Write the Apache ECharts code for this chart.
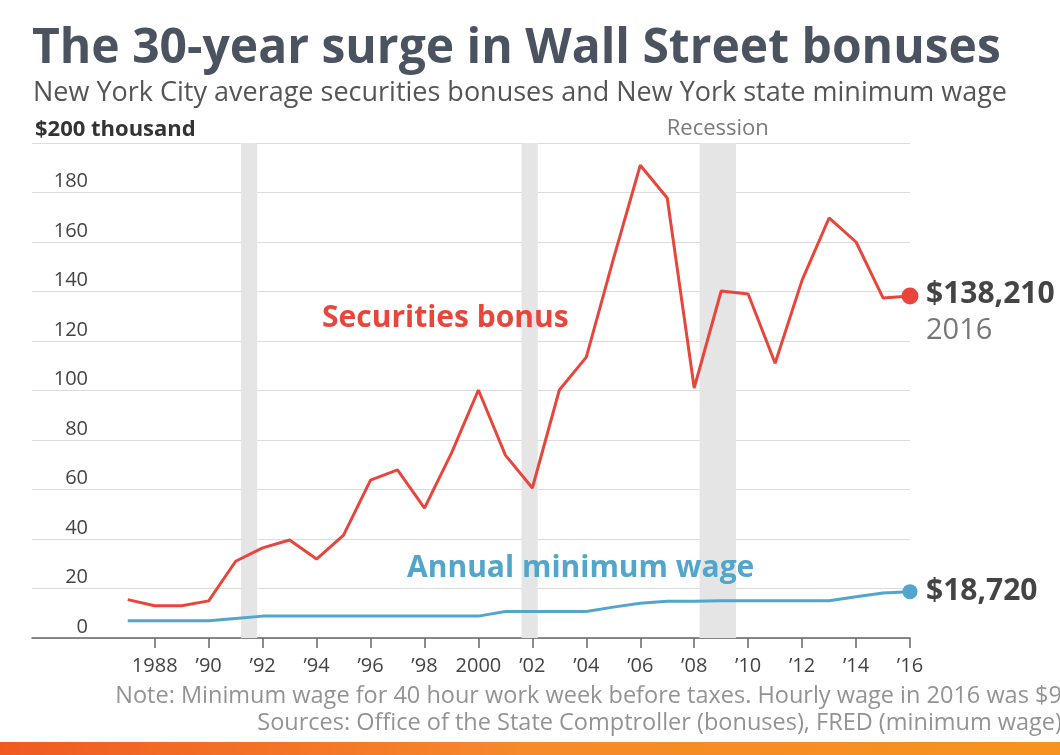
<!DOCTYPE html>
<html>
<head>
<meta charset="utf-8">
<script src="https://cdn.jsdelivr.net/npm/echarts@6/dist/echarts.min.js"></script>
<style>
  html, body { margin: 0; padding: 0; background: #fff; }
  #chartDiv { width: 1060px; height: 755px; }
</style>
</head>
<body>
<div id="chartDiv"></div>
<script>
// years and values in thousands of dollars
var years = [1987, 1988, 1989, 1990, 1991, 1992, 1993, 1994, 1995, 1996,
  1997, 1998, 1999, 2000, 2001, 2002, 2003, 2004, 2005, 2006,
  2007, 2008, 2009, 2010, 2011, 2012, 2013, 2014, 2015, 2016];
var bonus = [15.5, 13, 13, 15, 31, 36.4, 39.6, 31.9, 41.6, 63.8,
  67.9, 52.5, 74.7, 100.2, 73.9, 60.6, 100.2, 113.5, 153, 191,
  177.8, 101, 140.2, 139, 111, 144.6, 169.7, 160, 137.4, 138.21];
var minWage = [6.97, 6.97, 6.97, 6.97, 7.9, 8.84, 8.84, 8.84, 8.84, 8.84,
  8.84, 8.84, 8.84, 8.84, 10.71, 10.71, 10.71, 10.71, 12.48, 14.04,
  14.87, 14.87, 15.08, 15.08, 15.08, 15.08, 15.08, 16.64, 18.2, 18.72];
var recessions = [[1991.2, 1991.8], [2001.6, 2002.2], [2008.2, 2009.55]];
var tickYears = [1988, 1990, 1992, 1994, 1996, 1998, 2000, 2002, 2004, 2006,
  2008, 2010, 2012, 2014, 2016];

var RED = "#e8463d";
var BLUE = "#52a5cb";
var FONT = "Open Sans";

var myChart = echarts.init(document.getElementById("chartDiv"));

function pairs(ys) {
  var out = [];
  for (var i = 0; i < years.length; i++) out.push([years[i], ys[i]]);
  return out;
}

function dollars(v) {
  return "$" + Math.round(v * 1000).toLocaleString("en-US");
}

var last = years.length - 1;

var areas = [];
for (var i = 0; i < recessions.length; i++) {
  var start = { xAxis: recessions[i][0] };
  if (i === recessions.length - 1) {
    start.label = {
      show: true, position: "top", distance: 3, formatter: "Recession",
      color: "#7a7a7a", fontFamily: FONT, fontSize: 22
    };
  }
  areas.push([start, { xAxis: recessions[i][1] }]);
}

var option = {
  backgroundColor: "#ffffff",
  animation: false,
  grid: { left: 32, right: 150, top: 143, bottom: 117 },
  xAxis: {
    type: "value",
    min: 1983.45,
    max: 2016,
    axisLine: { show: true, lineStyle: { color: "#666", width: 1.5 } },
    axisTick: { show: true, length: 10, customValues: tickYears, lineStyle: { color: "#666", width: 1.5 } },
    axisLabel: {
      customValues: tickYears,
      margin: 18,
      color: "#444",
      fontFamily: FONT,
      fontSize: 20,
      formatter: function (v) {
        if (v === 1988 || v === 2000) return String(v);
        return "\u2019" + String(v).slice(2);
      }
    },
    splitLine: { show: false }
  },
  yAxis: {
    type: "value",
    min: 0,
    max: 200,
    interval: 20,
    axisLine: { show: false },
    axisTick: { show: false },
    axisLabel: {
      inside: true,
      align: "right",
      verticalAlign: "bottom",
      margin: 56,
      padding: [0, 0, 1, 0],
      color: "#444",
      fontFamily: FONT,
      fontSize: 20,
      formatter: function (v) { return v === 200 ? "" : String(v); }
    },
    splitLine: { lineStyle: { color: "#dcdcdc", width: 1 } }
  },
  graphic: [
    { type: "text", left: 32, top: 25, z: 100,
      style: { text: "The 30-year surge in Wall Street bonuses", fill: "#4b5260",
        font: "bold 48px 'Open Sans'" } },
    { type: "text", left: 33, top: 80, z: 100,
      style: { text: "New York City average securities bonuses and New York state minimum wage",
        fill: "#555", font: "27px 'Open Sans'" } },
    { type: "text", left: 35, top: 119, z: 100,
      style: { text: "$200 thousand", fill: "#333", font: "bold 22px 'Open Sans'" } },
    { type: "text", x: 322, y: 318, z: 100,
      style: { text: "Securities bonus", fill: RED, font: "bold 30px 'Open Sans'",
        textVerticalAlign: "middle" } },
    { type: "text", x: 407, y: 568, z: 100,
      style: { text: "Annual minimum wage", fill: BLUE, font: "bold 30px 'Open Sans'",
        textVerticalAlign: "middle" } },
    { type: "text", x: 1068, y: 696, z: 100,
      style: { text: "Note: Minimum wage for 40 hour work week before taxes. Hourly wage in 2016 was $9.",
        fill: "#939393", font: "23.5px 'Open Sans'", textAlign: "right", textVerticalAlign: "middle" } },
    { type: "text", x: 1062, y: 723, z: 100,
      style: { text: "Sources: Office of the State Comptroller (bonuses), FRED (minimum wage)",
        fill: "#939393", font: "23.5px 'Open Sans'", textAlign: "right", textVerticalAlign: "middle" } },
    { type: "rect", z: 100, shape: { x: 0, y: 742, width: 1060, height: 13 },
      style: { fill: new echarts.graphic.LinearGradient(0, 0, 1, 0, [
        { offset: 0, color: "#f05a22" },
        { offset: 0.5, color: "#f78a2a" },
        { offset: 1, color: "#f6921e" }
      ]) } }
  ],
  series: [
    {
      name: "Securities bonus",
      type: "line",
      data: pairs(bonus),
      lineStyle: { color: RED, width: 3 },
      itemStyle: { color: RED },
      symbol: "circle",
      symbolSize: function (v, p) { return p.dataIndex === last ? 17 : 0; },
      showAllSymbol: true,
      z: 3,
      endLabel: {
        show: true,
        distance: 16,
        offset: [0, 17],
        formatter: function (p) {
          return "{a|" + dollars(p.value[1]) + "}\n{b|" + p.value[0] + "}";
        },
        rich: {
          a: { fontFamily: FONT, fontWeight: "bold", fontSize: 30, color: "#444", lineHeight: 36 },
          b: { fontFamily: FONT, fontSize: 29, color: "#777", lineHeight: 36 }
        }
      },
      markArea: {
        silent: true,
        itemStyle: { color: "#e5e5e5" },
        label: { show: false },
        data: areas
      }
    },
    {
      name: "Annual minimum wage",
      type: "line",
      data: pairs(minWage),
      lineStyle: { color: BLUE, width: 3 },
      itemStyle: { color: BLUE },
      symbol: "circle",
      symbolSize: function (v, p) { return p.dataIndex === last ? 15 : 0; },
      showAllSymbol: true,
      z: 3,
      endLabel: {
        show: true,
        distance: 16,
        formatter: function (p) { return dollars(p.value[1]); },
        fontFamily: FONT, fontWeight: "bold", fontSize: 30, color: "#444"
      }
    }
  ]
};

myChart.setOption(option);
</script>
</body>
</html>
